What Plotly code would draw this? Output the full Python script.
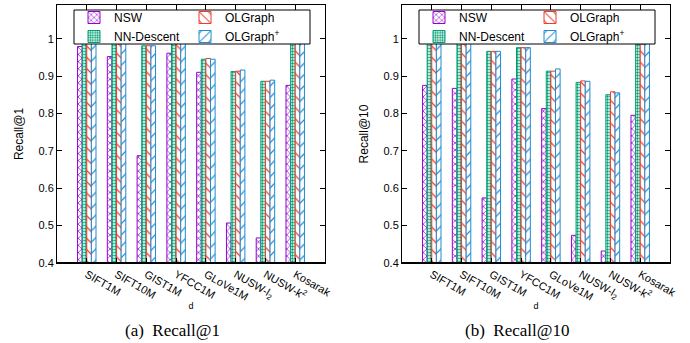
import plotly.graph_objects as go

categories = ["SIFT1M", "SIFT10M", "GIST1M", "YFCC1M", "GLoVe1M", "NUSW-l2", "NUSW-k2", "Kosarak"]
tick_labels = ["SIFT1M", "SIFT10M", "GIST1M", "YFCC1M", "GLoVe1M", "NUSW-l<sub>2</sub>", "NUSW-k<sup>2</sup>", "Kosarak"]
series_names = ["NSW", "NN-Descent", "OLGraph", "OLGraph<sup>+</sup>"]

# Recall@1
r1_nsw = [0.979, 0.952, 0.687, 0.961, 0.910, 0.507, 0.467, 0.875]
r1_nnd = [0.999, 0.996, 0.981, 0.987, 0.945, 0.912, 0.886, 0.993]
r1_olg = [0.999, 0.995, 0.981, 0.987, 0.947, 0.913, 0.886, 0.991]
r1_olgp = [0.999, 0.995, 0.981, 0.987, 0.945, 0.916, 0.889, 0.993]

# Recall@10
r10_nsw = [0.875, 0.867, 0.574, 0.892, 0.813, 0.474, 0.432, 0.795]
r10_nnd = [0.999, 0.990, 0.966, 0.976, 0.913, 0.883, 0.850, 0.985]
r10_olg = [0.998, 0.988, 0.966, 0.976, 0.913, 0.887, 0.858, 0.985]
r10_olgp = [0.998, 0.988, 0.966, 0.976, 0.919, 0.886, 0.855, 0.988]

colors = ["#9400D3", "#009E73", "#EE3B2B", "#1F8BD2"]
shapes_pat = ["x", ".", "\\", "/"]
pat_size = [5, 3, 8, 8]
pat_sol = [0.25, 0.5, 0.15, 0.15]
legend_col = ["a", "a", "b", "b"]

panel1 = [r1_nsw, r1_nnd, r1_olg, r1_olgp]
panel2 = [r10_nsw, r10_nnd, r10_olg, r10_olgp]

fig = go.Figure()
for p, (panel, xa, ya, lg) in enumerate([(panel1, "x", "y", "legend"), (panel2, "x2", "y2", "legend2")]):
    for i, vals in enumerate(panel):
        fig.add_trace(go.Bar(
            x=categories, y=vals, name=series_names[i],
            xaxis=xa, yaxis=ya, legend=lg, legendgroup=f"p{p}{legend_col[i]}",
            marker=dict(
                color="white",
                line=dict(color=colors[i], width=1),
                pattern=dict(shape=shapes_pat[i], fgcolor=colors[i], bgcolor="white",
                             size=pat_size[i], solidity=pat_sol[i], fillmode="replace"),
            ),
        ))

font_sans = "Liberation Sans, Arial, sans-serif"
W, H = 690, 343
ydom = [(H - 263) / H, (H - 5) / H]

def xaxis(dom, anchor):
    return dict(domain=dom, anchor=anchor, range=[-1, 8], tickmode="array",
                tickvals=categories, ticktext=tick_labels, tickangle=30,
                ticks="inside", ticklen=5, tickcolor="black", mirror="ticks",
                showline=True, linecolor="black", linewidth=1, showgrid=False,
                tickfont=dict(family=font_sans, size=11, color="black"),
                title=dict(text="d", font=dict(family=font_sans, size=9, color="black"), standoff=0))

def yaxis(anchor, title):
    return dict(domain=ydom, anchor=anchor, range=[0.4, 1.09], dtick=0.1, tick0=0.4,
                ticks="inside", ticklen=5, tickcolor="black", mirror="ticks",
                showline=True, linecolor="black", linewidth=1, showgrid=False, zeroline=False,
                tickfont=dict(family=font_sans, size=11, color="black"),
                title=dict(text=title, font=dict(family=font_sans, size=12, color="black"), standoff=12))

legend_common = dict(orientation="h", traceorder="grouped",
                     bgcolor="rgba(0,0,0,0)", borderwidth=0,
                     font=dict(family=font_sans, size=12, color="black"),
                     xanchor="left", yanchor="top", tracegroupgap=0, groupclick="toggleitem")

def legend_box(x0, x1):
    return dict(type="rect", xref="paper", yref="paper", x0=x0 / W, x1=x1 / W,
                y0=(H - 44) / H, y1=(H - 10) / H, layer="above",
                fillcolor="white", line=dict(color="black", width=1))

fig.update_layout(
    width=W, height=H, margin=dict(l=0, r=0, t=0, b=0, autoexpand=False),
    paper_bgcolor="white", plot_bgcolor="white",
    barmode="group", bargap=0.38, bargroupgap=0,
    xaxis=xaxis([57 / W, 325 / W], "y"),
    yaxis=yaxis("x", "Recall@1"),
    xaxis2=xaxis([402 / W, 670 / W], "y2"),
    yaxis2=yaxis("x2", "Recall@10"),
    legend=dict(x=74 / W, y=(H - 3) / H, **legend_common),
    legend2=dict(x=419 / W, y=(H - 3) / H, **legend_common),
    shapes=[
        dict(type="line", xref="x domain", yref="y domain", x0=0, x1=1, y0=0, y1=0,
             line=dict(color="black", width=2)),
        dict(type="line", xref="x2 domain", yref="y2 domain", x0=0, x1=1, y0=0, y1=0,
             line=dict(color="black", width=2)),
        legend_box(74, 310),
        legend_box(419, 655),
    ],
    annotations=[
        dict(text="(a)  Recall@1", xref="paper", yref="paper", x=172 / W, y=(H - 330) / H,
             xanchor="center", yanchor="middle", showarrow=False,
             font=dict(family="Liberation Serif, Times New Roman, serif", size=17, color="black")),
        dict(text="(b)  Recall@10", xref="paper", yref="paper", x=517 / W, y=(H - 330) / H,
             xanchor="center", yanchor="middle", showarrow=False,
             font=dict(family="Liberation Serif, Times New Roman, serif", size=17, color="black")),
    ],
    showlegend=True,
)

fig.write_html("out.html", config={"displayModeBar": False},
               post_script="document.body.style.margin='0px';")
